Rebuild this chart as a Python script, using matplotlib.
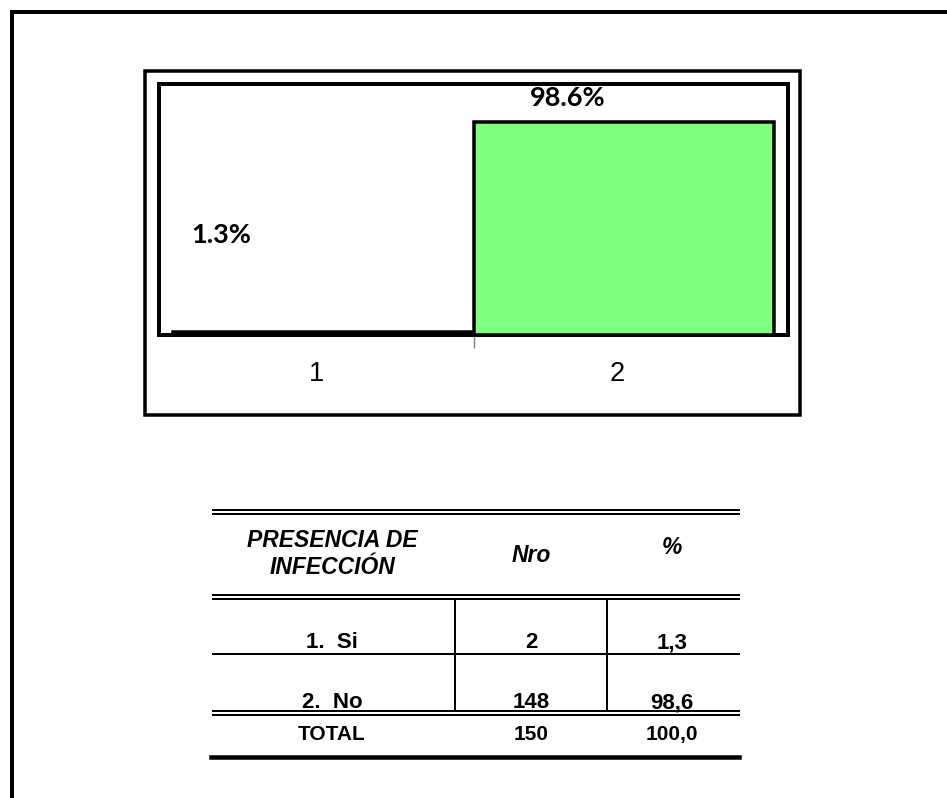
import numpy as np
import matplotlib
matplotlib.use("Agg")
import matplotlib.pyplot as plt
from matplotlib.patches import Rectangle

# Bar chart data
categories = ["1", "2"]
percentages = [1.3, 98.6]
bar_colors = ["white", "#80ff80"]

# Summary table
table_header = ["PRESENCIA DE\nINFECCIÓN", "Nro", "%"]
row_labels = ["1.  Si", "2.  No"]
row_counts = [2, 148]
row_percents = ["1,3", "98,6"]
total_row = ["TOTAL", "150", "100,0"]

W, H = 947, 798


def px(v):
    # pixels -> points at 100 dpi
    return v * 72 / 100


fig = plt.figure(figsize=(W / 100, H / 100), dpi=100)

# Page layer in pixel units, y pointing down
page = fig.add_axes([0, 0, 1, 1])
page.set_xlim(0, W)
page.set_ylim(H, 0)
page.axis("off")

# outer frame (only the left and top edges fall inside the page)
page.plot([12, 12, W + 20], [H + 20, 12, 12], color="black", lw=px(4),
          solid_joinstyle="miter")

# chart border
page.add_patch(Rectangle((144.5, 70.5), 655.5, 344.5, fill=False,
                         edgecolor="black", lw=px(3.5)))

# --- bar chart ---
ax = fig.add_axes([159 / W, (H - 335) / H, (788 - 159) / W, (335 - 84) / H])
for s in ax.spines.values():
    s.set_linewidth(px(4))

bar_width = 0.956
centers = np.arange(len(categories)) + 0.5 + np.array([1, -1]) * (1 - bar_width) / 2
ax.bar(centers, percentages, width=bar_width, color=bar_colors,
       edgecolor="black", linewidth=px(3.5), zorder=3)

label_x = [0.197, 1.30]
label_y = np.array(percentages) + np.array([45.0, 10.7])
for x, y, v in zip(label_x, label_y, percentages):
    ax.text(x, y, f"{v}%", ha="center", va="center", fontfamily="Lato",
            fontweight="bold", fontsize=19.5)

ax.set_xlim(0, 2)
ax.set_ylim(0, 116)
ax.set_yticks([])
ax.set_xticks(centers - 0.02, categories)
ax.tick_params(axis="x", which="major", length=0, pad=px(26), labelsize=19.5)
ax.set_xticks([1.0], minor=True)
ax.tick_params(axis="x", which="minor", length=px(13), width=1, color="gray",
               direction="out")
for lab in ax.get_xticklabels():
    lab.set_fontfamily("Liberation Sans")

# --- table ---
x0, x1 = 213, 739
col_centers = [332, 531, 672]
for y in [509.5, 513.5, 594.5, 598.5, 654, 710.5, 714.5]:
    page.plot([x0, x1], [y, y], color="black", lw=px(2))
page.plot([x0 - 2, x1], [757, 757], color="black", lw=px(4.5))
for x in [455, 607]:
    page.plot([x, x], [598.5, 710.5], color="black", lw=px(2))

hdr_y = [554, 555, 547]
for x, y, t in zip(col_centers, hdr_y, table_header):
    page.text(x, y, t, ha="center", va="center", multialignment="center",
              fontfamily="Liberation Sans", fontweight="bold", style="italic",
              fontsize=16.5, linespacing=1.2)

row_base = [648, 708]
for y, lab, n, p in zip(row_base, row_labels, row_counts, row_percents):
    for x, t in zip(col_centers, [lab, str(n), p]):
        page.text(x, y, t, ha="center", va="baseline",
                  fontfamily="Liberation Sans", fontweight="bold", fontsize=16)

for x, t in zip(col_centers, total_row):
    page.text(x, 740, t, ha="center", va="baseline",
              fontfamily="Liberation Sans", fontweight="bold", fontsize=15)

fig.savefig("out.png", dpi=100, facecolor="white")
